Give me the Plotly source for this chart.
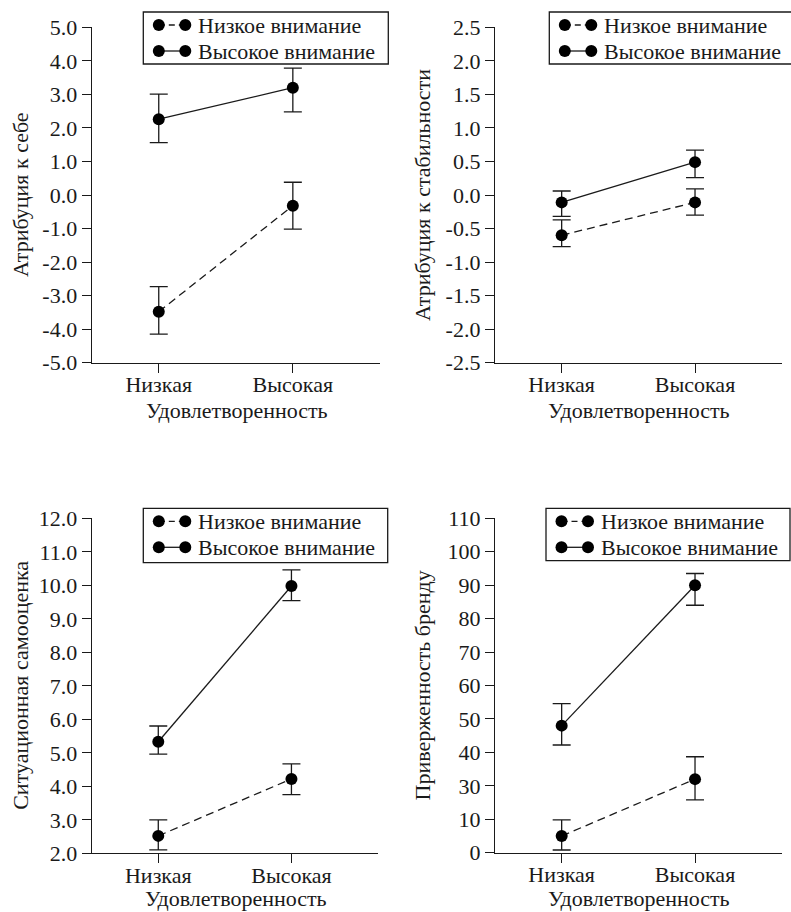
import plotly.graph_objects as go

# ---------------- data ----------------
categories = ["Низкая", "Высокая"]
series_names = ["Низкое внимание", "Высокое внимание"]
x_title = "Удовлетворенность"

# Panel 1: Атрибуция к себе
self_title = "Атрибуция к себе"
self_low = [-3.48, -0.32]
self_low_plus = [0.75, 0.70]
self_low_minus = [0.67, 0.70]
self_high = [2.26, 3.20]
self_high_plus = [0.75, 0.58]
self_high_minus = [0.70, 0.72]
self_ticks = [-5, -4, -3, -2, -1, 0, 1, 2, 3, 4, 5]
self_ticktext = ["-5.0", "-4.0", "-3.0", "-2.0", "-1.0", "0.0", "1.0", "2.0", "3.0", "4.0", "5.0"]

# Panel 2: Атрибуция к стабильности
stab_title = "Атрибуция к стабильности"
stab_low = [-0.60, -0.11]
stab_low_plus = [0.23, 0.20]
stab_low_minus = [0.17, 0.19]
stab_high = [-0.11, 0.49]
stab_high_plus = [0.17, 0.18]
stab_high_minus = [0.21, 0.23]
stab_ticks = [-2.5, -2.0, -1.5, -1.0, -0.5, 0.0, 0.5, 1.0, 1.5, 2.0, 2.5]
stab_ticktext = ["-2.5", "-2.0", "-1.5", "-1.0", "-0.5", "0.0", "0.5", "1.0", "1.5", "2.0", "2.5"]

# Panel 3: Ситуационная самооценка
esteem_title = "Ситуационная самооценка"
esteem_low = [2.52, 4.22]
esteem_low_plus = [0.48, 0.45]
esteem_low_minus = [0.42, 0.47]
esteem_high = [5.33, 9.98]
esteem_high_plus = [0.47, 0.48]
esteem_high_minus = [0.37, 0.44]
esteem_ticks = [2, 3, 4, 5, 6, 7, 8, 9, 10, 11, 12]
esteem_ticktext = ["2.0", "3.0", "4.0", "5.0", "6.0", "7.0", "8.0", "9.0", "10.0", "11.0", "12.0"]

# Panel 4: Приверженность бренду (values in axis units; the printed labels skip "20")
brand_title = "Приверженность бренду"
brand_low = [5, 22]
brand_low_plus = [4.8, 6.7]
brand_low_minus = [4.2, 6.2]
brand_high = [38, 80]
brand_high_plus = [6.6, 3.5]
brand_high_minus = [5.8, 6.0]
brand_ticks = [0, 10, 20, 30, 40, 50, 60, 70, 80, 90, 100]
brand_ticktext = ["0", "10", "30", "40", "50", "60", "70", "80", "90", "100", "110"]

# ---------------- layout helpers ----------------
W, H = 791, 912
FONT = "Liberation Serif"
FS = 22
INK = "#1a1a1a"


def fx(px):
    return px / W


def fy(py):
    return 1 - py / H


panels = [
    dict(title=self_title, low=self_low, lp=self_low_plus, lm=self_low_minus,
         high=self_high, hp=self_high_plus, hm=self_high_minus,
         ticks=self_ticks, ticktext=self_ticktext,
         box=(91.7, 380.0, 27.3, 362.7), legend=(143.3, 388.3, 12.0, 64.0),
         ytitle_x=21, xlab_y=411),
    dict(title=stab_title, low=stab_low, lp=stab_low_plus, lm=stab_low_minus,
         high=stab_high, hp=stab_high_plus, hm=stab_high_minus,
         ticks=stab_ticks, ticktext=stab_ticktext,
         box=(495.0, 781.7, 27.3, 362.7), legend=(549.3, 792.0, 12.0, 64.0),
         ytitle_x=423, xlab_y=411),
    dict(title=esteem_title, low=esteem_low, lp=esteem_low_plus, lm=esteem_low_minus,
         high=esteem_high, hp=esteem_high_plus, hm=esteem_high_minus,
         ticks=esteem_ticks, ticktext=esteem_ticktext,
         box=(91.7, 378.0, 518.3, 853.3), legend=(143.3, 387.7, 508.3, 562.7),
         ytitle_x=21, xlab_y=898),
    dict(title=brand_title, low=brand_low, lp=brand_low_plus, lm=brand_low_minus,
         high=brand_high, hp=brand_high_plus, hm=brand_high_minus,
         ticks=brand_ticks, ticktext=brand_ticktext,
         box=(495.0, 781.7, 518.3, 852.7), legend=(546.0, 790.0, 508.3, 560.7),
         ytitle_x=422, xlab_y=898),
]

fig = go.Figure()
shapes = []
annotations = []
xpos = list(range(len(categories)))

for i, p in enumerate(panels, start=1):
    xa = "x" if i == 1 else f"x{i}"
    ya = "y" if i == 1 else f"y{i}"
    for name, vals, ep, em, dash in [
        (series_names[0], p["low"], p["lp"], p["lm"], "8px,5px"),
        (series_names[1], p["high"], p["hp"], p["hm"], "solid"),
    ]:
        fig.add_trace(go.Scatter(
            x=xpos, y=vals, name=name, mode="lines+markers",
            xaxis=xa, yaxis=ya, showlegend=False,
            line=dict(color=INK, width=1.3, dash=dash),
            marker=dict(color="black", size=12),
            error_y=dict(type="data", array=ep, arrayminus=em, symmetric=False,
                         color=INK, thickness=1.3, width=9),
        ))

    x0, x1, y0, y1 = p["box"]
    lo, hi = p["ticks"][0], p["ticks"][-1]
    axkey = "xaxis" if i == 1 else f"xaxis{i}"
    aykey = "yaxis" if i == 1 else f"yaxis{i}"
    fig.update_layout({
        axkey: dict(domain=[fx(x0), fx(x1)], anchor=ya, range=[-0.5, 1.65],
                    tickvals=xpos, ticktext=categories, showgrid=False, zeroline=False,
                    showline=True, linecolor=INK, linewidth=1.3, ticks="outside",
                    ticklen=9, tickwidth=1.3, tickcolor=INK, ticklabelstandoff=-7,
                    automargin=False,
                    tickfont=dict(family=FONT, size=FS, color=INK), fixedrange=True),
        aykey: dict(domain=[fy(y1), fy(y0)], anchor=xa, range=[lo, hi],
                    tickvals=p["ticks"], ticktext=p["ticktext"], showgrid=False,
                    zeroline=False, showline=True, linecolor=INK, linewidth=1.3,
                    ticks="outside", ticklen=9, tickwidth=1.3, tickcolor=INK,
                    automargin=False,
                    tickfont=dict(family=FONT, size=FS, color=INK), fixedrange=True),
    })

    # axis titles
    annotations.append(dict(text=p["title"], textangle=-90, xref="paper", yref="paper",
                            x=fx(p["ytitle_x"]), y=fy((y0 + y1) / 2), xanchor="center",
                            yanchor="middle", showarrow=False,
                            font=dict(family=FONT, size=FS, color=INK)))
    annotations.append(dict(text=x_title, xref="paper", yref="paper",
                            x=fx((x0 + x1) / 2 + 1), y=fy(p["xlab_y"]), xanchor="center",
                            yanchor="middle", showarrow=False,
                            font=dict(family=FONT, size=FS, color=INK)))

    # custom legend (box, line samples with end markers, labels)
    lx0, lx1, ly0, ly1 = p["legend"]
    shapes.append(dict(type="rect", xref="paper", yref="paper",
                       x0=fx(lx0), x1=fx(lx1), y0=fy(ly1), y1=fy(ly0),
                       line=dict(color=INK, width=1.3), fillcolor="white", layer="above"))
    rows = [ly0 + 13.0, ly0 + 39.0]
    for r, (ry, dash) in enumerate(zip(rows, ["dash", "solid"])):
        m1, m2 = lx0 + 15.5, lx0 + 42.0
        shapes.append(dict(type="line", xref="paper", yref="paper",
                           x0=fx(m1), x1=fx(m2), y0=fy(ry), y1=fy(ry),
                           line=dict(color=INK, width=1.3,
                                     dash="6px,4px" if dash == "dash" else "solid"),
                           layer="above"))
        for mx in (m1, m2):
            shapes.append(dict(type="circle", xref="paper", yref="paper",
                               xsizemode="pixel", ysizemode="pixel",
                               xanchor=fx(mx), yanchor=fy(ry),
                               x0=-6, x1=6, y0=-6, y1=6,
                               fillcolor="black", line=dict(color="black", width=0),
                               layer="above"))
        annotations.append(dict(text=series_names[r], xref="paper", yref="paper",
                                x=fx(lx0 + 53), y=fy(ry), xanchor="left", yanchor="middle",
                                showarrow=False,
                                font=dict(family=FONT, size=FS, color=INK)))

fig.update_layout(
    width=W, height=H, margin=dict(l=0, r=0, t=0, b=0, autoexpand=False),
    paper_bgcolor="white", plot_bgcolor="white",
    shapes=shapes, annotations=annotations, showlegend=False,
)

fig.write_html("out.html", config={"displayModeBar": False},
               post_script="document.body.style.margin='0';document.body.style.overflow='hidden';")
